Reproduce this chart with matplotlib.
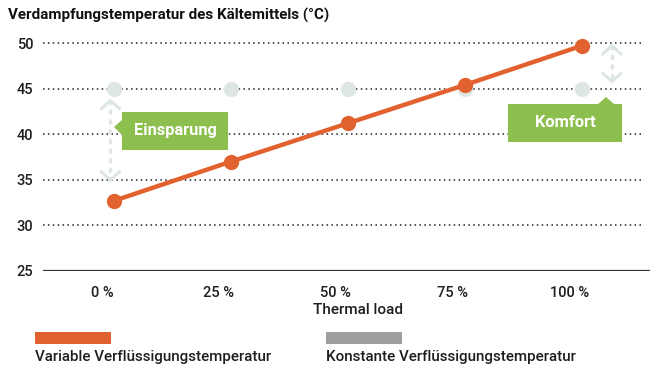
import matplotlib
matplotlib.use("Agg")
import matplotlib.pyplot as plt
import matplotlib.transforms as mtransforms
from matplotlib.patches import Polygon
from matplotlib.lines import Line2D

# ---- data ----
categories = ["0 %", "25 %", "50 %", "75 %", "100 %"]
variable_temp = [32.7, 37.0, 41.2, 45.4, 49.7]
constant_temp = [45, 45, 45, 45, 45]
y_ticks = [25, 30, 35, 40, 45, 50]

title = "Verdampfungstemperatur des Kältemittels (°C)"
x_label = "Thermal load"
legend_labels = ["Variable Verflüssigungstemperatur", "Konstante Verflüssigungstemperatur"]

ORANGE = "#e2622f"
GREY = "#9e9e9c"
PALE = "#dde6e2"
GREEN = "#8dbf4f"
FONT = "Roboto"
TXT = "#1e1e1e"

W, H = 652, 370
fig = plt.figure(figsize=(W / 100, H / 100), dpi=100)


def fx(px):
    return px / W


def fy(py):
    return 1 - py / H


# axes: left edge at px 43, right at 650; y=25 at px 271, y=51 at px ~34
ax = fig.add_axes([fx(43), fy(271), fx(650) - fx(43), fy(34) - fy(271)])
x = list(range(len(categories)))
ax.set_xlim(-0.607, 4.586)
ax.set_ylim(25, 51)

for s in ["top", "right", "left", "bottom"]:
    ax.spines[s].set_visible(False)

# gridlines
for yv in y_ticks[1:]:
    ax.axhline(yv, xmin=0, xmax=0.985, color="#222222", lw=1.1,
               ls=(0, (1, 2.2)), zorder=1)
ax.axhline(y_ticks[0], color="#333333", lw=1.6, zorder=1)

# y ticks
ax.set_yticks(y_ticks)
ax.set_yticklabels([str(v) for v in y_ticks], fontsize=10.5, family=FONT,
                   fontweight="medium", color=TXT)
ax.tick_params(axis="y", length=0, pad=7)

# x ticks (labels sit slightly left of the markers)
ax.set_xticks(x)
ax.set_xticklabels(categories, fontsize=10.5, family=FONT, fontweight="medium",
                   color=TXT)
ax.tick_params(axis="x", length=0, pad=11)
shift = mtransforms.ScaledTranslation(-12 / 100, 0, fig.dpi_scale_trans)
for lab in ax.get_xticklabels():
    lab.set_transform(lab.get_transform() + shift)

# constant series (pale dots)
ax.plot(x, constant_temp, ls="none", marker="o", ms=11, color=PALE,
        mec="none", zorder=2)
# variable series
ax.plot(x, variable_temp, color=ORANGE, lw=3.2, marker="o", ms=11,
        mec="none", zorder=4, solid_capstyle="round")


# double-headed dotted arrows
def vert_arrow(xd, y_top, y_bot):
    ax.plot([xd, xd], [y_top, y_bot], color=PALE, lw=2.5,
            ls=(0, (0.6, 2.2)), dash_capstyle="round", zorder=2)
    trans = ax.transData
    inv = fig.transFigure.inverted()
    for yv, sign in [(y_top, 1), (y_bot, -1)]:
        px, py = trans.transform((xd, yv))
        pts = [(px - 9, py - sign * 8), (px, py), (px + 9, py - sign * 8)]
        pts = [inv.transform(p) for p in pts]
        fig.add_artist(Line2D([p[0] for p in pts], [p[1] for p in pts],
                              color=PALE, lw=2.2, zorder=3,
                              solid_joinstyle="miter"))


fig.canvas.draw()
vert_arrow(0 - 0.03, 43.7, 35.0)
vert_arrow(4.26, 49.7, 45.8)


# callout boxes (pixel layout)
def callout(box, pointer, text):
    x0, y0, x1, y1 = box
    poly = [(fx(x0), fy(y0)), (fx(x1), fy(y0)), (fx(x1), fy(y1)), (fx(x0), fy(y1))]
    fig.add_artist(Polygon(poly, closed=True, fc=GREEN, ec="none",
                           transform=fig.transFigure, zorder=5))
    fig.add_artist(Polygon([(fx(a), fy(b)) for a, b in pointer], closed=True,
                           fc=GREEN, ec="none", transform=fig.transFigure, zorder=5))
    fig.text(fx((x0 + x1) / 2), fy((y0 + y1) / 2), text, color="white",
             fontsize=11.8, fontweight="bold", family=FONT,
             ha="center", va="center", zorder=6)


callout((122, 112, 228, 150), [(122, 120), (114, 127), (122, 135)], "Einsparung")
callout((508, 104, 622, 142), [(598, 104), (606, 97), (614, 104)], "Komfort")

# title
fig.text(fx(8), fy(15), title, fontsize=10.9, fontweight="bold", family=FONT,
         color="#111111", ha="left", va="center")

# x-axis title
fig.text(fx(358), fy(310), x_label, fontsize=11, family=FONT, fontweight="medium",
         color=TXT, ha="center", va="center")

# legend
for (lx, color, label) in [(35, ORANGE, legend_labels[0]), (326, GREY, legend_labels[1])]:
    fig.add_artist(Polygon([(fx(lx), fy(332)), (fx(lx + 76), fy(332)),
                            (fx(lx + 76), fy(344)), (fx(lx), fy(344))],
                           closed=True, fc=color, ec="none", transform=fig.transFigure))
    fig.text(fx(lx), fy(357), label, fontsize=10.9, family=FONT, fontweight="medium",
             color=TXT, ha="left", va="center")

fig.savefig("out.png", dpi=100)
